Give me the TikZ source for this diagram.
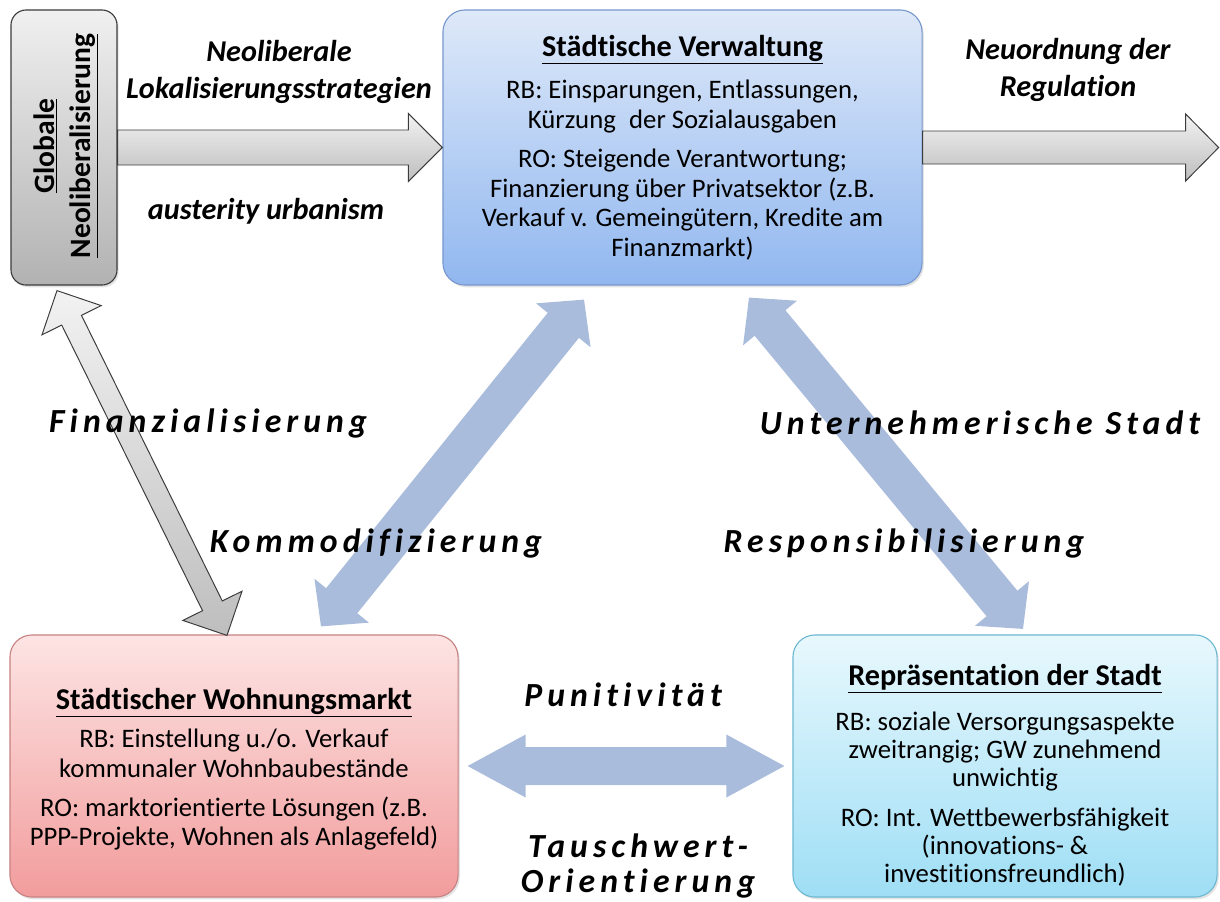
\documentclass[tikz,border=0pt]{standalone}
\usepackage{fontspec}
\setmainfont{Carlito}[Ligatures=NoCommon]
\newfontfamily\trackfont[LetterSpace=15,Ligatures=NoCommon]{Carlito}
\usetikzlibrary{calc,shadows}
\definecolor{arrblue}{RGB}{170,188,220}
\definecolor{grayedge}{RGB}{60,60,60}
\definecolor{vtop}{RGB}{222,233,249}
\definecolor{vbot}{RGB}{145,183,239}
\definecolor{vedge}{RGB}{120,152,205}
\definecolor{mtop}{RGB}{253,228,228}
\definecolor{mbot}{RGB}{242,156,156}
\definecolor{medge}{RGB}{200,130,130}
\definecolor{rtop}{RGB}{232,248,253}
\definecolor{rbot}{RGB}{158,222,245}
\definecolor{redge}{RGB}{110,185,210}
\definecolor{gtop}{RGB}{240,240,240}
\definecolor{gbot}{RGB}{178,178,178}
\definecolor{atop}{RGB}{242,242,242}
\definecolor{abot}{RGB}{190,190,190}
\newcommand\PX{*0.025cm}
% double block arrow: #1 style, #2 end A, #3 end B, #4 half shaft, #5 half head, #6 head length (px)
\newcommand\dblblock[6]{%
  \path[#1] (#2)
    -- ($(#2)!#6\PX!(#3)!#5\PX!90:(#3)$)
    -- ($(#2)!#6\PX!(#3)!#4\PX!90:(#3)$)
    -- ($(#3)!#6\PX!(#2)!#4\PX!-90:(#2)$)
    -- ($(#3)!#6\PX!(#2)!#5\PX!-90:(#2)$)
    -- (#3)
    -- ($(#3)!#6\PX!(#2)!#5\PX!90:(#2)$)
    -- ($(#3)!#6\PX!(#2)!#4\PX!90:(#2)$)
    -- ($(#2)!#6\PX!(#3)!#4\PX!-90:(#3)$)
    -- ($(#2)!#6\PX!(#3)!#5\PX!-90:(#3)$)
    -- cycle;}
% single block arrow: tail #2, tip #3
\newcommand\sglblock[6]{%
  \path[#1] ($(#2)!#4\PX!90:(#3)$)
    -- ($(#3)!#6\PX!(#2)!#4\PX!-90:(#2)$)
    -- ($(#3)!#6\PX!(#2)!#5\PX!-90:(#2)$)
    -- (#3)
    -- ($(#3)!#6\PX!(#2)!#5\PX!90:(#2)$)
    -- ($(#3)!#6\PX!(#2)!#4\PX!90:(#2)$)
    -- ($(#2)!#4\PX!-90:(#3)$)
    -- cycle;}
\begin{document}
\begin{tikzpicture}[x=0.025cm,y=-0.025cm,
  box/.style={rounded corners=0.55cm, align=center, inner sep=0pt, line width=0.8pt,
    font=\fontsize{19}{21}\selectfont,
    drop shadow={opacity=0.22, shadow xshift=1.2pt, shadow yshift=-1.6pt}},
  garrow/.style={draw=grayedge, line width=0.7pt, top color=atop, bottom color=abot, line join=miter},
  barrow/.style={fill=arrblue},
  lab/.style={font=\fontsize{21.5}{26}\selectfont\bfseries\itshape, align=center, inner sep=0pt},
  trk/.style={font=\trackfont\fontsize{24}{25}\selectfont\bfseries\itshape, align=center, inner sep=0pt}]
\useasboundingbox (0,0) rectangle (1220,901);

% boxes
\node[box, rounded corners=0.38cm, minimum width=2.65cm, minimum height=6.875cm,
  top color=gtop, bottom color=gbot, draw=grayedge] (glob) at (64,147.5) {};
\node[rotate=90, align=center, inner sep=0pt, font=\fontsize{21}{26}\selectfont\bfseries]
  (globtxt) at (66,146) {\underline{Globale}\\\underline{Neoliberalisierung}};

\node[box, minimum width=11.975cm, minimum height=6.875cm,
  top color=vtop, bottom color=vbot, draw=vedge] (verw) at (682.5,147.5)
  {{\fontsize{21.5}{25}\selectfont\bfseries\underline{Städtische Verwaltung}}\\[9pt]
   RB: Einsparungen, Entlassungen,\\
   Kürzung\enspace der Sozialausgaben\\[7pt]
   RO: Steigende Verantwortung;\\
   Finanzierung über Privatsektor (z.B.\\
   Verkauf v. Gemeingütern, Kredite am\\
   Finanzmarkt)};

\node[box, minimum width=11.2cm, minimum height=6.55cm,
  top color=mtop, bottom color=mbot, draw=medge] (markt) at (234,766)
  {{\fontsize{21.5}{25}\selectfont\bfseries\rule{0pt}{20pt}\underline{Städtischer Wohnungsmarkt}}\\[6pt]
   RB: Einstellung u./o. Verkauf\\
   kommunaler Wohnbaubestände\\[7pt]
   RO: marktorientierte Lösungen (z.B.\\
   PPP-Projekte, Wohnen als Anlagefeld)};

\node[box, minimum width=10.6cm, minimum height=6.55cm, font=\fontsize{19}{20}\selectfont,
  top color=rtop, bottom color=rbot, draw=redge] (repr) at (1005,766)
  {{\fontsize{21.5}{25}\selectfont\bfseries\rule{0pt}{28pt}\underline{Repräsentation der Stadt}}\\[12pt]
   RB: soziale Versorgungsaspekte\\
   zweitrangig; GW zunehmend\\
   unwichtig\\[8pt]
   RO: Int. Wettbewerbsfähigkeit\\
   (innovations- \&\\
   investitionsfreundlich)};

% connector end points
\coordinate (regout) at ($(verw.east)+(296,0)$);
\coordinate (g1) at ($(glob.south)+(-7,5)$);
\coordinate (g2) at ($(markt.north)+(-7,1)$);
\coordinate (k1) at ($(markt.north)+(87,-8)$);
\coordinate (k2) at ($(verw.south)+(-98.5,14)$);
\coordinate (u1) at ($(verw.south)+(66.5,12)$);
\coordinate (u2) at ($(repr.north)+(18,-5.5)$);
\coordinate (p1) at ($(markt.east)+(9,0)$);
\coordinate (p2) at ($(repr.west)+(-8,0)$);

% arrows
\sglblock{garrow}{glob.east}{verw.west}{17.5}{34}{34}
\sglblock{garrow}{verw.east}{regout}{16.5}{33.5}{33}
\dblblock{garrow}{g1}{g2}{11}{33}{33}
\dblblock{barrow}{k1}{k2}{20}{35}{33}
\dblblock{barrow}{u1}{u2}{20}{35}{33}
\dblblock{barrow}{p1}{p2}{19}{31.5}{58}

% labels
\node[lab] (neo) at (279,72) {Neoliberale\\Lokalisierungsstrategien};
\node[lab] (aust) at (266,211) {austerity urbanism};
\node[lab] (neuord) at (1068,70) {Neuordnung der\\Regulation};
\node[trk] (fin) at (208,423) {Finanzialisierung};
\node[trk] (komm) at (376,543) {Kommodifizierung};
\node[trk] (unter) at (980,423) {Unternehmerische Stadt};
\node[trk] (resp) at (904,543) {Responsibilisierung};
\node[trk] (punit) at (623,695) {Punitivität};
\node[trk] (tausch) at (638,866) {Tauschwert-\\Orientierung};
\end{tikzpicture}
\end{document}
